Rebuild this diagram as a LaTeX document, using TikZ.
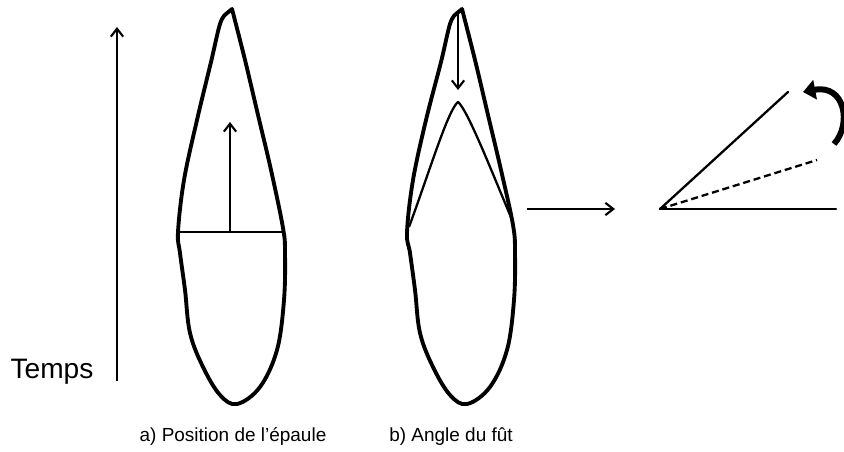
\documentclass[tikz,border=0pt]{standalone}
\usepackage{fontspec}
\setmainfont{Liberation Sans}
\usetikzlibrary{arrows.meta}

\begin{document}
\begin{tikzpicture}[
  x=0.02cm, y=-0.02cm,
  >={Straight Barb[length=4.5pt,width=7pt]},
  outline/.style={line width=2.2pt, line join=round, line cap=round},
  thin line/.style={line width=1.3pt},
  arrow/.style={->, line width=1.2pt},
  turn/.style={-{Triangle[length=7pt,width=11pt]}, line width=3.4pt},
  caption/.style={font=\fontsize{10.8}{13}\selectfont, anchor=base},
  timelabel/.style={font=\fontsize{16}{19}\selectfont, anchor=base}
]
  \useasboundingbox (0,0) rectangle (844,452);

  % time axis
  \coordinate (tbot) at (117,381);
  \coordinate (ttop) at (117,27);
  \draw[arrow] (tbot) -- (ttop);
  \node[timelabel] (temps) at (52,378) {Temps};

  % a) shoulder position
  \draw[outline] plot[smooth, tension=0.6] coordinates {
      (232,9) (245,60) (258,115) (271,170) (283,228) (285,253) (284,300)
      (277,350) (260,387) (237,404) (220,395) (203,367) (190,333)
      (185,290) (180,253) (178,232) (184,180) (197,120) (211,62) (220,24) (226,14)}
    -- cycle;
  \coordinate (sl) at (178,232);
  \coordinate (sr) at (284,232);
  \draw[thin line] (sl) -- (sr);
  \coordinate (sbase) at (230,232);
  \coordinate (stop) at (230,122);
  \draw[arrow] (sbase) -- (stop);
  \node[caption] (capa) at (233,441) {a) Position de l'épaule};

  % b) shaft angle
  \draw[outline] plot[smooth, tension=0.6] coordinates {
      (462,9) (475,60) (488,115) (501,170) (513,225) (515,253) (514,300)
      (507,350) (490,387) (467,404) (450,395) (433,367) (420,333)
      (415,290) (410,253) (407,232) (413,180) (426,120) (441,62) (450,24) (456,14)}
    -- cycle;
  \coordinate (al) at (409,227);
  \coordinate (apex) at (458,102);
  \coordinate (ar) at (513,222);
  \draw[thin line, line join=round] (al) .. controls (430,170) and (448,110) .. (apex)
    .. controls (468,110) and (495,180) .. (ar);
  \coordinate (atop) at (458,14);
  \coordinate (aend) at (458,90);
  \draw[arrow] (atop) -- (aend);
  \node[caption] (capb) at (451,441) {b) Angle du fût};

  % transition arrow
  \coordinate (from) at (527,209);
  \coordinate (to) at (615,209);
  \draw[arrow] (from) -- (to);

  % angle
  \coordinate (vertex) at (660,209);
  \coordinate (base) at (836,209);
  \coordinate (old) at (788,92);
  \coordinate (new) at (817,160);
  \draw[thin line, line cap=round] (vertex) -- (base);
  \draw[thin line, line cap=round] (vertex) -- (old);
  \draw[thin line, dash pattern=on 4pt off 2.2pt] (vertex) -- (new);
  \coordinate (rotstart) at (834,144);
  \coordinate (rotend) at (803,92);
  \draw[turn] (rotstart) .. controls (852,124) and (845,84) .. (rotend);
\end{tikzpicture}
\end{document}
